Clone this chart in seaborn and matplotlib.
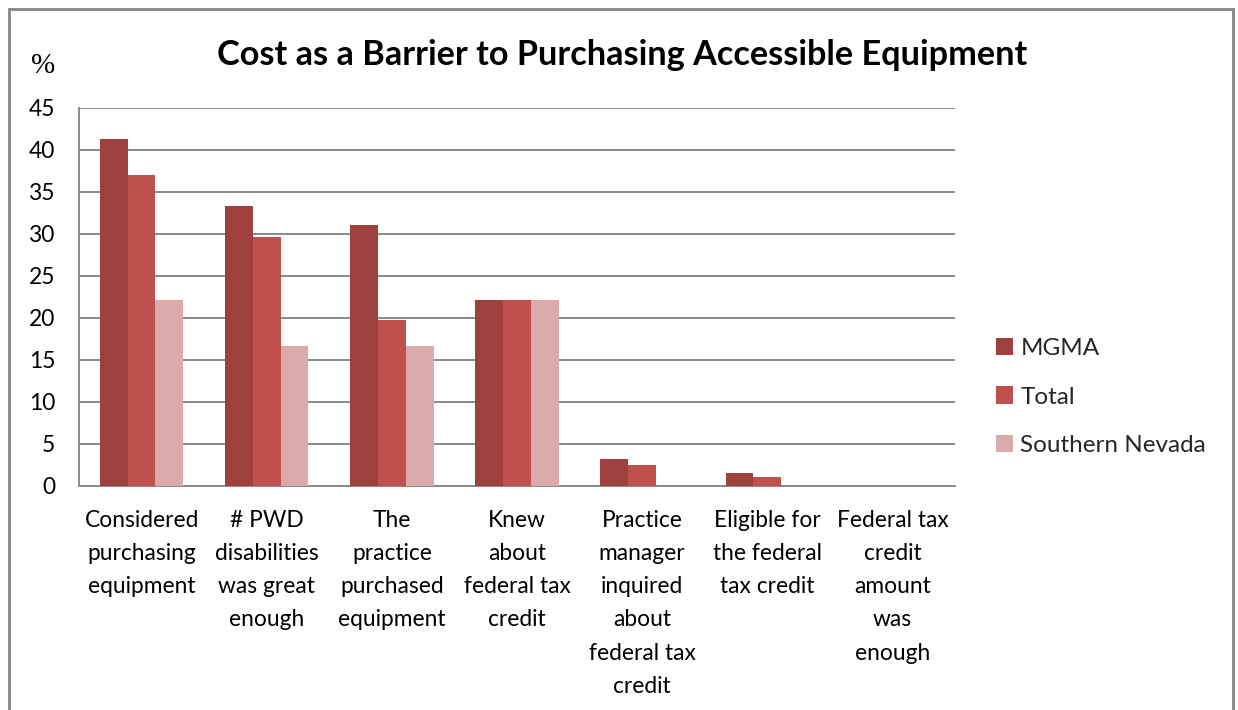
import matplotlib
matplotlib.use("Agg")
import matplotlib.pyplot as plt
import seaborn as sns
import pandas as pd
from matplotlib.patches import Rectangle

categories = [
    "Considered\npurchasing\nequipment",
    "# PWD\ndisabilities\nwas great\nenough",
    "The\npractice\npurchased\nequipment",
    "Knew\nabout\nfederal tax\ncredit",
    "Practice\nmanager\ninquired\nabout\nfederal tax\ncredit",
    "Eligible for\nthe federal\ntax credit",
    "Federal tax\ncredit\namount\nwas\nenough",
]
series_names = ["MGMA", "Total", "Southern Nevada"]
mgma = [41.3, 33.3, 31.1, 22.2, 3.2, 1.5, 0.0]
total = [37.0, 29.6, 19.8, 22.2, 2.5, 1.1, 0.0]
southern_nevada = [22.2, 16.7, 16.7, 22.2, 0.0, 0.0, 0.0]
y_ticks = [0, 5, 10, 15, 20, 25, 30, 35, 40, 45]
colors = ["#9E413E", "#C0504D", "#DBAAAA"]

rows = []
for name, vals in zip(series_names, [mgma, total, southern_nevada]):
    for cat, v in zip(categories, vals):
        rows.append({"category": cat, "series": name, "value": v})
df = pd.DataFrame(rows)

sns.set_theme(style="white")
plt.rcParams["font.family"] = ["Lato", "DejaVu Sans"]

W, H = 1238, 710
fig = plt.figure(figsize=(W / 100, H / 100), dpi=100)
ax = fig.add_axes([79 / W, 1 - 486 / H, (955 - 79) / W, (486 - 108) / H])

sns.barplot(data=df, x="category", y="value", hue="series", order=categories,
            hue_order=series_names, palette=colors, saturation=1,
            width=0.667, gap=0, ax=ax, edgecolor="none", linewidth=0, zorder=3)

ax.set_xlim(-0.5, len(categories) - 0.5)
ax.set_ylim(0, 45)
ax.set_yticks(y_ticks)
ax.set_yticklabels([str(t) for t in y_ticks], fontsize=16.4, color="black")
ax.yaxis.grid(True, color="#8A8A8A", linewidth=1.4, zorder=0)
ax.xaxis.grid(False)
ax.set_axisbelow(True)
ax.tick_params(axis="both", length=0)
ax.tick_params(axis="y", pad=17)
ax.tick_params(axis="x", pad=17)
for lbl in ax.get_xticklabels():
    lbl.set_fontsize(16.4)
    lbl.set_color("black")
    lbl.set_linespacing(1.72)
    lbl.set_verticalalignment("top")
ax.set_xlabel("")
ax.set_ylabel("")
for side in ["top", "right"]:
    ax.spines[side].set_visible(False)
for side in ["left", "bottom"]:
    ax.spines[side].set_color("#8A8A8A")
    ax.spines[side].set_linewidth(1.4)

handles, labels = ax.get_legend_handles_labels()
ax.legend(handles, labels, loc="center left", bbox_to_anchor=(996 / W, 1 - 397 / H),
          bbox_transform=fig.transFigure, frameon=False, fontsize=17.5,
          handlelength=0.7, handleheight=0.7, handletextpad=0.3, labelspacing=1.12,
          borderaxespad=0, borderpad=0)

fig.text(622 / W, 1 - 55 / H, "Cost as a Barrier to Purchasing Accessible Equipment",
         ha="center", va="center", fontsize=24.7, fontweight="bold", color="black")
fig.text(43 / W, 1 - 66 / H, "%", ha="center", va="center", fontsize=21,
         color="black", family=["Liberation Serif", "DejaVu Serif"])

fig.patches.append(Rectangle((9 / W, -0.05), (1233 - 9) / W, 1 - 9 / H + 0.05,
                             transform=fig.transFigure, fill=False,
                             edgecolor="#868686", linewidth=2))

fig.savefig("out.png", dpi=100)
